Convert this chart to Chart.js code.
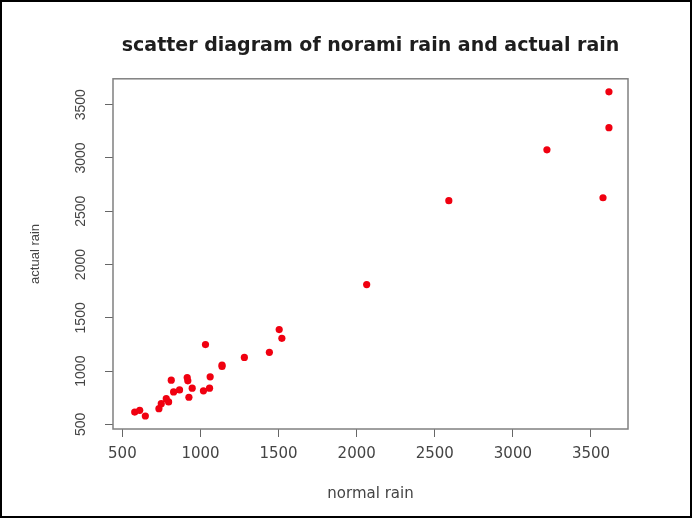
<!DOCTYPE html>
<html>
<head>
<meta charset="utf-8">
<script src="https://cdn.jsdelivr.net/npm/chart.js@4.4.0/dist/chart.umd.min.js"></script>
<style>
  html, body { margin: 0; padding: 0; background: #fff; }
  #wrap { width: 692px; height: 518px; }
</style>
</head>
<body>
<div id="wrap"><canvas id="rainChart" width="692" height="518"></canvas></div>
<script>
// normal rain vs actual rain
const normalRain = [579, 611, 647, 734, 749, 781, 796, 813, 828, 866, 915, 919, 926, 947,
  1019, 1032, 1058, 1062, 1138, 1138, 1281, 1441, 1504, 1521, 2064, 2590, 3218, 3577, 3615, 3615];
const actualRain = [616, 632, 579, 648, 695, 742, 711, 915, 805, 824, 940, 909, 755, 840,
  815, 1249, 840, 947, 1057, 1044, 1129, 1176, 1390, 1308, 1812, 2599, 3077, 2627, 3621, 3284];
const xTicks = [500, 1000, 1500, 2000, 2500, 3000, 3500];
const yTicks = [500, 1000, 1500, 2000, 2500, 3000, 3500];

const points = normalRain.map((x, i) => ({ x: x, y: actualRain[i] }));
const wideFont = '"DejaVu Sans", Verdana, sans-serif';
const plainFont = '"Liberation Sans", Arial, sans-serif';

// box round the plot and frame round the picture
const framePlugin = {
  id: 'frame',
  beforeDraw(chart) {
    const ctx = chart.ctx;
    ctx.save();
    ctx.fillStyle = '#fff';
    ctx.fillRect(0, 0, chart.width, chart.height);
    ctx.restore();
  },
  afterDraw(chart) {
    const ctx = chart.ctx;
    const a = chart.chartArea;
    ctx.save();
    ctx.strokeStyle = '#808080';
    ctx.lineWidth = 1.5;
    ctx.strokeRect(a.left, a.top, a.right - a.left, a.bottom - a.top);
    ctx.strokeStyle = '#000';
    ctx.lineWidth = 2;
    ctx.strokeRect(1, 1, chart.width - 2, chart.height - 2);
    ctx.restore();
  }
};

new Chart(document.getElementById('rainChart').getContext('2d'), {
  type: 'scatter',
  data: {
    datasets: [{
      label: 'rain',
      data: points,
      backgroundColor: '#f00010',
      borderWidth: 0,
      pointRadius: 3.6,
      pointHoverRadius: 3.6
    }]
  },
  options: {
    responsive: false,
    animation: false,
    layout: { padding: { top: 0, right: 64, bottom: 0, left: 0 } },
    plugins: {
      legend: { display: false },
      tooltip: { enabled: false },
      title: {
        display: true,
        fullSize: false,
        text: 'scatter diagram of norami rain and actual rain',
        color: '#1e1e1e',
        font: { family: wideFont, size: 19, weight: 'bold' },
        padding: { top: 35, bottom: 21 }
      }
    },
    scales: {
      x: {
        type: 'linear',
        min: 440,
        max: 3737,
        afterBuildTicks: s => { s.ticks = xTicks.map(v => ({ value: v })); },
        afterFit: s => { s.height = 89; },
        border: { display: false },
        grid: { drawOnChartArea: false, drawTicks: true, tickLength: 8, color: '#666', tickWidth: 1 },
        ticks: {
          color: '#444', font: { family: wideFont, size: 15 }, padding: 8, maxRotation: 0,
          callback: v => String(v)
        },
        title: {
          display: true, text: 'normal rain', color: '#444',
          font: { family: wideFont, size: 15 }, padding: { top: 4, bottom: 15 }
        }
      },
      y: {
        type: 'linear',
        min: 457,
        max: 3743,
        afterBuildTicks: s => { s.ticks = yTicks.map(v => ({ value: v })); },
        afterFit: s => { s.width = 113; },
        border: { display: false },
        grid: { drawOnChartArea: false, drawTicks: true, tickLength: 8, color: '#666', tickWidth: 1 },
        ticks: {
          color: '#444', font: { family: plainFont, size: 14 }, padding: 8, minRotation: 90, maxRotation: 90,
          crossAlign: 'center', callback: v => String(v)
        },
        title: {
          display: true, text: 'actual rain', color: '#444',
          font: { family: plainFont, size: 13 }, padding: { top: 28, bottom: 0 }
        }
      }
    }
  },
  plugins: [framePlugin]
});
</script>
</body>
</html>
